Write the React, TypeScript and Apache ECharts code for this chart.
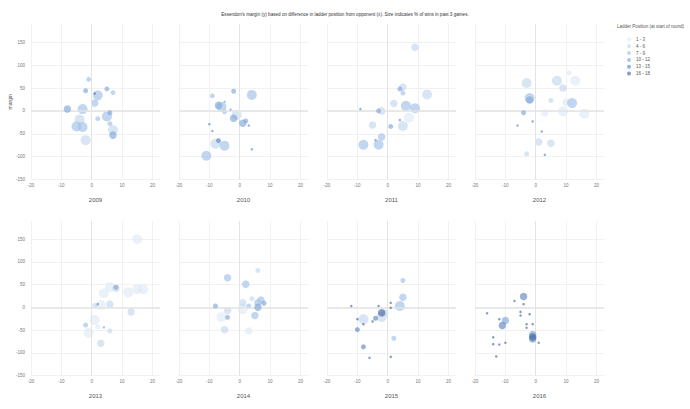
import React, { useEffect, useRef } from "react";
import * as echarts from "echarts";

const titleText =
  "Essendon's margin (y) based on difference in ladder position from opponent (x). Size indicates % of wins in past 3 games.";
const years = ["2009", "2010", "2011", "2012", "2013", "2014", "2015", "2016"];
const groupLabels = ["1 - 3", "4 - 6", "7 - 9", "10 - 12", "13 - 15", "16 - 18"];
const groupColors = ["#dfe9f5", "#c3d8ef", "#a3c2e6", "#82a9d8", "#6189c2", "#4868a3"];
const winSizes = [2.5, 5, 7.5, 10];
const xTicks = [-20, -10, 0, 10, 20];
const yTicks = [-150, -100, -50, 0, 50, 100, 150];

// [ladder difference, margin, ladder group index, wins in past 3]
const d2009 = [
  [-1, 69, 2, 1], [-2, 44, 3, 1], [5, 48, 3, 1], [7, 40, 2, 1], [1, 38, 5, 0], [2, 34, 2, 3],
  [1, 17, 2, 2], [-8, 4, 3, 2], [-3, 4, 2, 3], [6, -4, 3, 1], [2, -17, 2, 1], [5, -12, 2, 3],
  [-4, -19, 1, 3], [-5, -34, 2, 3], [-3, -35, 2, 3], [6, -28, 2, 1], [7, -42, 1, 3], [7, -53, 3, 2],
  [-2, -64, 1, 3],
];
const d2010 = [
  [-2, 43, 3, 1], [4, 35, 2, 3], [-9, 33, 2, 1], [-5, 20, 3, 0], [-7, 12, 3, 2], [-6, 9, 2, 3],
  [-3, 3, 3, 0], [-5, -2, 2, 1], [-1, -9, 1, 3], [-2, -16, 3, 2], [2, -22, 3, 1], [1, -27, 3, 2],
  [3, -32, 4, 0], [-10, -29, 4, 0], [-9, -44, 4, 0], [-7, -65, 4, 1], [-8, -72, 1, 3], [-5, -76, 2, 3],
  [-11, -98, 2, 3], [4, -84, 4, 0],
];
const d2011 = [
  [9, 139, 1, 2], [5, 52, 1, 2], [4, 48, 3, 1], [5, 39, 2, 1], [13, 36, 1, 3], [2, 16, 1, 2],
  [6, 11, 2, 3], [9, 6, 2, 3], [-9, 4, 4, 0], [-2, 0, 1, 2], [-3, 0, 3, 1], [7, -15, 0, 3],
  [4, -20, 4, 0], [-5, -31, 1, 2], [1, -34, 3, 1], [5, -33, 1, 3], [-2, -57, 2, 2], [-4, -64, 4, 0],
  [-3, -74, 2, 3], [-8, -74, 2, 3],
];
const d2012 = [
  [11, 83, 0, 1], [-3, 61, 1, 3], [7, 66, 1, 3], [13, 66, 0, 3], [9, 50, 1, 2], [-2, 28, 2, 3],
  [-2, 24, 3, 2], [5, 23, 1, 1], [12, 17, 2, 3], [10, 19, 0, 2], [-4, -4, 3, 1], [3, -4, 0, 2],
  [9, -1, 0, 3], [16, -6, 0, 3], [-1, -23, 4, 0], [-6, -32, 4, 0], [2, -45, 4, 0], [1, -68, 1, 2],
  [5, -71, 1, 2], [-3, -94, 1, 1], [3, -96, 4, 0],
];
const d2013 = [
  [15, 150, 0, 3], [6, 45, 0, 3], [8, 42, 1, 2], [8, 44, 3, 1], [4, 31, 0, 3], [12, 33, 0, 3],
  [15, 40, 0, 3], [17, 40, 0, 3], [3, 5, 0, 3], [1, 4, 1, 1], [2, 7, 4, 0], [6, 7, 1, 2],
  [13, -10, 1, 2], [1, -28, 0, 3], [-2, -39, 2, 1], [2, -43, 0, 1], [4, -44, 3, 0], [6, -52, 1, 1],
  [-1, -56, 0, 3], [3, -79, 1, 2],
];
const d2014 = [
  [6, 81, 1, 1], [-4, 65, 2, 2], [2, 51, 2, 2], [4, 19, 1, 1], [1, 10, 1, 2], [7, 16, 2, 2],
  [8, 9, 3, 1], [6, 10, 2, 2], [3, 3, 2, 1], [6, 0, 3, 2], [-8, 3, 3, 1], [-4, -7, 1, 2],
  [1, -4, 0, 3], [-6, -21, 0, 3], [-4, -22, 3, 1], [5, -18, 2, 2], [-5, -49, 1, 2], [3, -52, 0, 2],
];
const d2015 = [
  [5, 59, 2, 1], [1, 10, 5, 0], [5, 22, 2, 2], [4, 3, 2, 3], [-12, 3, 5, 0], [-3, 3, 5, 0],
  [1, -1, 5, 0], [-1, -13, 1, 2], [-2, -21, 1, 3], [-2, -12, 5, 2], [-4, -24, 4, 1], [-5, -31, 5, 0],
  [-8, -26, 1, 3], [-10, -26, 5, 0], [-8, -37, 5, 0], [-10, -49, 4, 1], [2, -68, 2, 1], [-8, -87, 4, 1],
  [-6, -111, 5, 0], [1, -109, 5, 0],
];
const d2016 = [
  [-4, 24, 4, 2], [-7, 14, 5, 0], [-4, 7, 5, 0], [-16, -13, 5, 0], [-5, -10, 5, 0], [-5, -18, 5, 0],
  [-2, -15, 5, 0], [-12, -26, 5, 0], [-10, -29, 3, 2], [-11, -40, 4, 2], [-3, -37, 5, 0], [-3, -45, 5, 0],
  [-1, -37, 5, 0], [-14, -66, 5, 0], [-1, -60, 3, 2], [-1, -65, 5, 2], [-1, -69, 4, 2], [-14, -81, 5, 0],
  [-12, -82, 5, 0], [-10, -78, 5, 0], [1, -78, 5, 0], [-13, -108, 5, 0],
];
const yearData = [d2009, d2010, d2011, d2012, d2013, d2014, d2015, d2016];

const FONT = "'Liberation Sans', 'Helvetica Neue', Arial, sans-serif";

export default function App() {
  const ref = useRef<HTMLDivElement>(null);
  useEffect(() => {
    if (!ref.current) return;
    const chart = echarts.init(ref.current, undefined, { renderer: "svg" });
    const grids: any[] = [];
    const xAxes: any[] = [];
    const yAxes: any[] = [];
    const series: any[] = [];
    years.forEach((yr, i) => {
      const c = i % 4;
      const r = Math.floor(i / 4);
      grids.push({
        left: 31 + 148 * c,
        top: r === 0 ? 24 : 221,
        width: 129,
        height: r === 0 ? 155.5 : 154.5,
        outerBoundsMode: "none",
      });
      xAxes.push({
        type: "value",
        gridIndex: i,
        min: -20,
        max: 22.5,
        interval: 10,
        name: yr,
        nameLocation: "middle",
        nameGap: 17,
        nameTextStyle: { fontSize: 6, color: "#555", fontFamily: FONT },
        axisLine: { show: false },
        axisTick: { show: false, customValues: xTicks },
        axisLabel: { customValues: xTicks, fontSize: 4.5, color: "#777", margin: 3.5, fontFamily: FONT },
        splitLine: { show: true, lineStyle: { color: "#eeeeee", width: 0.8 } },
      });
      yAxes.push({
        type: "value",
        gridIndex: i,
        min: -150,
        max: 190,
        interval: 50,
        name: i === 0 ? "margin" : "",
        nameLocation: "middle",
        nameGap: 19,
        nameTextStyle: { fontSize: 5, color: "#555", fontFamily: FONT },
        axisLine: { show: false },
        axisTick: { show: false, customValues: yTicks },
        axisLabel: {
          show: c === 0,
          customValues: yTicks,
          fontSize: 4.5,
          color: "#777",
          margin: 6,
          fontFamily: FONT,
        },
        splitLine: { show: true, lineStyle: { color: "#eeeeee", width: 0.8 } },
      });
      series.push({
        type: "scatter",
        name: "zero" + i,
        xAxisIndex: i,
        yAxisIndex: i,
        data: [],
        z: 1,
        silent: true,
        markLine: {
          silent: true,
          symbol: "none",
          label: { show: false },
          data: [
            { yAxis: 0, lineStyle: { color: "#e3e3e3", width: 1.6, type: "solid" } },
            { xAxis: 0, lineStyle: { color: "#e3e3e3", width: 1, type: "solid" } },
          ],
        },
      });
      groupLabels.forEach((g, gi) => {
        series.push({
          type: "scatter",
          name: g,
          xAxisIndex: i,
          yAxisIndex: i,
          z: 2 + gi,
          data: yearData[i].filter((p) => p[2] === gi),
          symbolSize: (v: number[]) => winSizes[v[3]],
          itemStyle: { color: groupColors[gi], opacity: 0.66 },
        });
      });
    });
    chart.setOption({
      animation: false,
      backgroundColor: "#ffffff",
      title: {
        text: titleText,
        left: "center",
        top: 7,
        textStyle: { fontSize: 4.6, fontWeight: "normal", color: "#333", fontFamily: FONT },
      },
      legend: {
        orient: "vertical",
        left: 622,
        top: 32,
        itemWidth: 4,
        itemHeight: 4,
        itemGap: 1.8,
        icon: "circle",
        selectedMode: false,
        data: groupLabels,
        textStyle: { fontSize: 4.5, color: "#555", fontFamily: FONT },
      },
      graphic: [
        {
          type: "text",
          left: 617,
          top: 24,
          style: { text: "Ladder Position (at start of round)", fontSize: 4.5, fill: "#555", fontFamily: FONT },
        },
      ],
      grid: grids,
      xAxis: xAxes,
      yAxis: yAxes,
      series,
    });
    return () => chart.dispose();
  }, []);
  return (
    <div
      ref={ref}
      style={{ position: "absolute", left: 0, top: 0, width: 690, height: 409 }}
    />
  );
}
